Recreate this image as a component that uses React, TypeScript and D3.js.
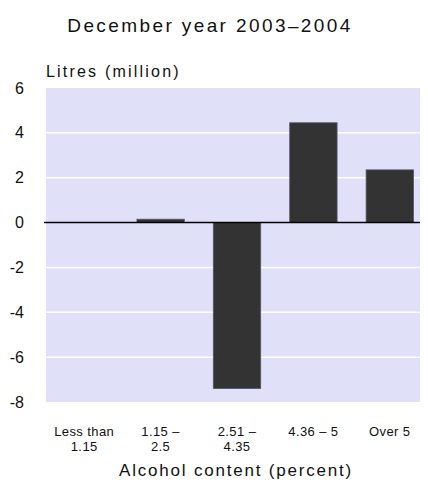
import React, { useEffect, useRef } from 'react';
import * as d3 from 'd3';

const categories = ['Less than|1.15', '1.15 –|2.5', '2.51 –|4.35', '4.36 – 5', 'Over 5'];
const values = [0, 0.15, -7.4, 4.45, 2.35];
const yTicks = [6, 4, 2, 0, -2, -4, -6, -8];

const App = () => {
  const ref = useRef<SVGSVGElement>(null);

  useEffect(() => {
    const width = 428;
    const height = 488;
    const margin = { top: 88, right: 0, bottom: 86, left: 46 };

    const svg = d3.select(ref.current);
    svg.selectAll('*').remove();
    svg.attr('width', width).attr('height', height);

    const font = '"Liberation Sans", Arial, sans-serif';

    const x = d3.scaleBand()
      .domain(categories)
      .range([margin.left, width - margin.right])
      .paddingInner(0.38)
      .paddingOuter(0.19);

    const y = d3.scaleLinear()
      .domain([-8, 6])
      .range([height - margin.bottom, margin.top]);

    // plot background
    svg.append('rect')
      .attr('x', margin.left)
      .attr('y', y(6))
      .attr('width', width - margin.right - margin.left)
      .attr('height', y(-8) - y(6))
      .style('fill', '#e0e0f8');

    // white gridlines
    svg.selectAll('.grid')
      .data(yTicks.filter(d => d !== 0 && d !== 6 && d !== -8))
      .enter().append('line')
      .attr('x1', margin.left)
      .attr('x2', width - margin.right)
      .attr('y1', d => y(d))
      .attr('y2', d => y(d))
      .style('stroke', '#ffffff')
      .style('stroke-width', 1.5);

    // bars
    svg.selectAll('.bar')
      .data(values)
      .enter().append('rect')
      .attr('x', (d, i) => x(categories[i])!)
      .attr('width', x.bandwidth())
      .attr('y', d => d >= 0 ? y(d) : y(0))
      .attr('height', d => Math.abs(y(d) - y(0)))
      .style('fill', '#333333')
      .style('stroke', d => d === 0 ? 'none' : '#555566')
      .style('stroke-width', 0.8);

    // zero line
    svg.append('line')
      .attr('x1', margin.left - 2)
      .attr('x2', width)
      .attr('y1', y(0))
      .attr('y2', y(0))
      .style('stroke', '#000')
      .style('stroke-width', 1.5);

    // y tick labels
    svg.selectAll('.ylab')
      .data(yTicks)
      .enter().append('text')
      .attr('x', 24)
      .attr('y', d => y(d))
      .attr('dy', '0.35em')
      .attr('text-anchor', 'end')
      .text(d => String(d))
      .style('font-family', font)
      .style('font-size', '16px')
      .style('fill', '#111');

    // x category labels
    categories.forEach(c => {
      const lines = c.split('|');
      const t = svg.append('text')
        .attr('x', x(c)! + x.bandwidth() / 2)
        .attr('y', 436)
        .attr('text-anchor', 'middle')
        .style('font-family', font)
        .style('font-size', '13px')
        .style('letter-spacing', '0.4px')
        .style('fill', '#111');
      lines.forEach((l, i) => {
        t.append('tspan')
          .attr('x', x(c)! + x.bandwidth() / 2)
          .attr('dy', i === 0 ? 0 : 15)
          .text(l);
      });
    });

    // title
    svg.append('text')
      .attr('x', 210)
      .attr('y', 32)
      .attr('text-anchor', 'middle')
      .text('December year 2003–2004')
      .style('font-family', font)
      .style('font-size', '19px')
      .style('letter-spacing', '2.4px')
      .style('fill', '#111');

    // y axis unit
    svg.append('text')
      .attr('x', 46)
      .attr('y', 77)
      .text('Litres (million)')
      .style('font-family', font)
      .style('font-size', '16px')
      .style('letter-spacing', '2.2px')
      .style('fill', '#111');

    // x axis title
    svg.append('text')
      .attr('x', 236)
      .attr('y', 476)
      .attr('text-anchor', 'middle')
      .text('Alcohol content (percent)')
      .style('font-family', font)
      .style('font-size', '17px')
      .style('letter-spacing', '1.8px')
      .style('fill', '#111');
  }, []);

  return (
    <div style={{ margin: -8 }}>
      <svg ref={ref} style={{ display: 'block' }} />
    </div>
  );
};

export default App;
